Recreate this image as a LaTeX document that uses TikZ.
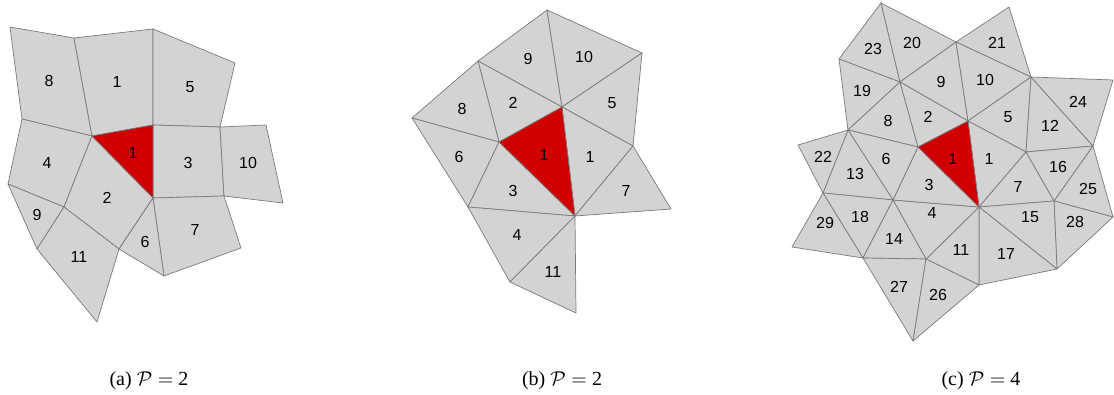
\documentclass[tikz,border=0pt]{standalone}
\usepackage{fontspec}
\setmainfont{Liberation Serif}
\setsansfont{Liberation Sans}
\usepackage{tikz}
\usetikzlibrary{positioning}
\usepackage{xcolor}
\definecolor{cellgray}{HTML}{D3D3D3}
\definecolor{edgegray}{HTML}{7A7A7A}
\definecolor{seedred}{HTML}{D00000}
\tikzset{
  cell/.style={draw=edgegray,fill=cellgray,line width=0.35pt,line join=round},
  seed/.style={draw=edgegray,fill=seedred,line width=0.35pt,line join=round},
  num/.style={font=\sffamily\fontsize{8}{9}\selectfont,inner sep=0pt},
  caption/.style={font=\fontsize{10}{12}\selectfont,inner sep=0pt}
}

\begin{document}
\begin{tikzpicture}[x=0.5pt,y=-0.5pt]
    \useasboundingbox (0,0) rectangle (1114,395);
    % (a)
    \coordinate (a1) at (10,27);
    \coordinate (a2) at (74,38);
    \coordinate (a3) at (153,29);
    \coordinate (a4) at (235,63);
    \coordinate (a5) at (220,127);
    \coordinate (a6) at (153,125);
    \coordinate (a7) at (92,136);
    \coordinate (a8) at (22,119);
    \coordinate (a9) at (153,198);
    \coordinate (a10) at (266,125);
    \coordinate (a11) at (283,203);
    \coordinate (a12) at (224,196);
    \coordinate (a13) at (241,248);
    \coordinate (a14) at (164,276);
    \coordinate (a15) at (119,249);
    \coordinate (a16) at (8,184);
    \coordinate (a17) at (64,207);
    \coordinate (a18) at (37,249);
    \coordinate (a19) at (97,322);
    \draw[cell] (a1) -- (a2) -- (a7) -- (a8) -- cycle;
    \draw[cell] (a2) -- (a3) -- (a6) -- (a7) -- cycle;
    \draw[cell] (a3) -- (a4) -- (a5) -- (a6) -- cycle;
    \draw[cell] (a6) -- (a5) -- (a12) -- (a9) -- cycle;
    \draw[cell] (a5) -- (a10) -- (a11) -- (a12) -- cycle;
    \draw[cell] (a8) -- (a7) -- (a17) -- (a16) -- cycle;
    \draw[cell] (a7) -- (a9) -- (a15) -- (a17) -- cycle;
    \draw[cell] (a9) -- (a12) -- (a13) -- (a14) -- cycle;
    \draw[cell] (a9) -- (a14) -- (a15) -- cycle;
    \draw[cell] (a16) -- (a17) -- (a18) -- cycle;
    \draw[cell] (a17) -- (a15) -- (a19) -- (a18) -- cycle;
    \draw[seed] (a6) -- (a7) -- (a9) -- cycle;
    \node[num] (a-8) at (49,81) {8};
    \node[num] (a-1) at (117,82) {1};
    \node[num] (a-5) at (190,87) {5};
    \node[num] (a-s) at (133,153) {1};
    \node[num] (a-3) at (188,163) {3};
    \node[num] (a-10) at (248,163) {10};
    \node[num] (a-4) at (47,163) {4};
    \node[num] (a-2) at (107,198) {2};
    \node[num] (a-9) at (37,215) {9};
    \node[num] (a-6) at (145,242) {6};
    \node[num] (a-7) at (195,230) {7};
    \node[num] (a-11) at (79,257) {11};
    \node[caption] (cap-a) at (149,381) {(a) $\mathcal{P} =$ 2};
    % (b)
    \coordinate (b1) at (547,10);
    \coordinate (b2) at (642,53);
    \coordinate (b3) at (478,61);
    \coordinate (b4) at (412,118);
    \coordinate (b5) at (562,107);
    \coordinate (b6) at (499,142);
    \coordinate (b7) at (575,216);
    \coordinate (b8) at (633,146);
    \coordinate (b9) at (671,209);
    \coordinate (b10) at (468,207);
    \coordinate (b11) at (510,282);
    \coordinate (b12) at (576,313);
    \draw[cell] (b1) -- (b3) -- (b5) -- cycle;
    \draw[cell] (b1) -- (b2) -- (b5) -- cycle;
    \draw[cell] (b2) -- (b8) -- (b5) -- cycle;
    \draw[cell] (b5) -- (b8) -- (b7) -- cycle;
    \draw[cell] (b8) -- (b9) -- (b7) -- cycle;
    \draw[cell] (b3) -- (b5) -- (b6) -- cycle;
    \draw[cell] (b3) -- (b4) -- (b6) -- cycle;
    \draw[cell] (b4) -- (b6) -- (b10) -- cycle;
    \draw[cell] (b6) -- (b10) -- (b7) -- cycle;
    \draw[cell] (b10) -- (b7) -- (b11) -- cycle;
    \draw[cell] (b7) -- (b11) -- (b12) -- cycle;
    \draw[seed] (b5) -- (b6) -- (b7) -- cycle;
    \node[num] (b-9) at (528,59) {9};
    \node[num] (b-10) at (584,57) {10};
    \node[num] (b-8) at (462,109) {8};
    \node[num] (b-2) at (513,103) {2};
    \node[num] (b-5) at (612,103) {5};
    \node[num] (b-s) at (544,155) {1};
    \node[num] (b-1) at (590,157) {1};
    \node[num] (b-6) at (459,157) {6};
    \node[num] (b-3) at (513,191) {3};
    \node[num] (b-7) at (626,191) {7};
    \node[num] (b-4) at (517,235) {4};
    \node[num] (b-11) at (553,272) {11};
    \node[caption] (cap-b) at (562,381) {(b) $\mathcal{P} =$ 2};
    % (c)
    \coordinate (c1) at (881,3);
    \coordinate (c2) at (839,59);
    \coordinate (c3) at (956,42);
    \coordinate (c4) at (1009,7);
    \coordinate (c5) at (1031,77);
    \coordinate (c6) at (900,82);
    \coordinate (c7) at (1113,80);
    \coordinate (c8) at (1093,146);
    \coordinate (c9) at (968,121);
    \coordinate (c10) at (1026,152);
    \coordinate (c11) at (918,147);
    \coordinate (c12) at (848,130);
    \coordinate (c13) at (798,145);
    \coordinate (c14) at (823,193);
    \coordinate (c15) at (893,200);
    \coordinate (c16) at (979,207);
    \coordinate (c17) at (1054,201);
    \coordinate (c18) at (1113,217);
    \coordinate (c19) at (792,247);
    \coordinate (c20) at (863,258);
    \coordinate (c21) at (926,259);
    \coordinate (c22) at (979,285);
    \coordinate (c23) at (1057,269);
    \coordinate (c24) at (913,341);
    \draw[cell] (c1) -- (c2) -- (c6) -- cycle;
    \draw[cell] (c1) -- (c3) -- (c6) -- cycle;
    \draw[cell] (c3) -- (c4) -- (c5) -- cycle;
    \draw[cell] (c6) -- (c3) -- (c9) -- cycle;
    \draw[cell] (c3) -- (c5) -- (c9) -- cycle;
    \draw[cell] (c2) -- (c6) -- (c12) -- cycle;
    \draw[cell] (c6) -- (c12) -- (c11) -- cycle;
    \draw[cell] (c6) -- (c9) -- (c11) -- cycle;
    \draw[cell] (c9) -- (c5) -- (c10) -- cycle;
    \draw[cell] (c5) -- (c10) -- (c8) -- cycle;
    \draw[cell] (c5) -- (c7) -- (c8) -- cycle;
    \draw[cell] (c9) -- (c10) -- (c16) -- cycle;
    \draw[cell] (c10) -- (c16) -- (c17) -- cycle;
    \draw[cell] (c10) -- (c8) -- (c17) -- cycle;
    \draw[cell] (c8) -- (c17) -- (c18) -- cycle;
    \draw[cell] (c17) -- (c18) -- (c23) -- cycle;
    \draw[cell] (c16) -- (c17) -- (c23) -- cycle;
    \draw[cell] (c16) -- (c23) -- (c22) -- cycle;
    \draw[cell] (c16) -- (c22) -- (c21) -- cycle;
    \draw[cell] (c15) -- (c16) -- (c21) -- cycle;
    \draw[cell] (c11) -- (c15) -- (c16) -- cycle;
    \draw[cell] (c12) -- (c11) -- (c15) -- cycle;
    \draw[cell] (c12) -- (c14) -- (c15) -- cycle;
    \draw[cell] (c13) -- (c12) -- (c14) -- cycle;
    \draw[cell] (c14) -- (c15) -- (c20) -- cycle;
    \draw[cell] (c15) -- (c20) -- (c21) -- cycle;
    \draw[cell] (c14) -- (c19) -- (c20) -- cycle;
    \draw[cell] (c20) -- (c21) -- (c24) -- cycle;
    \draw[cell] (c21) -- (c22) -- (c24) -- cycle;
    \draw[seed] (c9) -- (c11) -- (c16) -- cycle;
    \node[num] (c-23) at (873,49) {23};
    \node[num] (c-20) at (912,43) {20};
    \node[num] (c-21) at (997,43) {21};
    \node[num] (c-19) at (862,91) {19};
    \node[num] (c-9) at (941,82) {9};
    \node[num] (c-10) at (985,80) {10};
    \node[num] (c-24) at (1078,102) {24};
    \node[num] (c-8) at (888,121) {8};
    \node[num] (c-2) at (928,117) {2};
    \node[num] (c-5) at (1008,117) {5};
    \node[num] (c-12) at (1050,126) {12};
    \node[num] (c-s) at (953,159) {1};
    \node[num] (c-1) at (989,159) {1};
    \node[num] (c-22) at (823,157) {22};
    \node[num] (c-6) at (886,159) {6};
    \node[num] (c-13) at (855,174) {13};
    \node[num] (c-16) at (1058,167) {16};
    \node[num] (c-3) at (929,185) {3};
    \node[num] (c-7) at (1018,187) {7};
    \node[num] (c-25) at (1088,189) {25};
    \node[num] (c-18) at (860,217) {18};
    \node[num] (c-4) at (932,213) {4};
    \node[num] (c-29) at (825,223) {29};
    \node[num] (c-15) at (1030,217) {15};
    \node[num] (c-28) at (1075,222) {28};
    \node[num] (c-14) at (894,239) {14};
    \node[num] (c-11) at (961,250) {11};
    \node[num] (c-17) at (1006,254) {17};
    \node[num] (c-27) at (899,287) {27};
    \node[num] (c-26) at (938,295) {26};
    \node[caption] (cap-c) at (981,381) {(c) $\mathcal{P} =$ 4};
  \end{tikzpicture}
\end{document}
